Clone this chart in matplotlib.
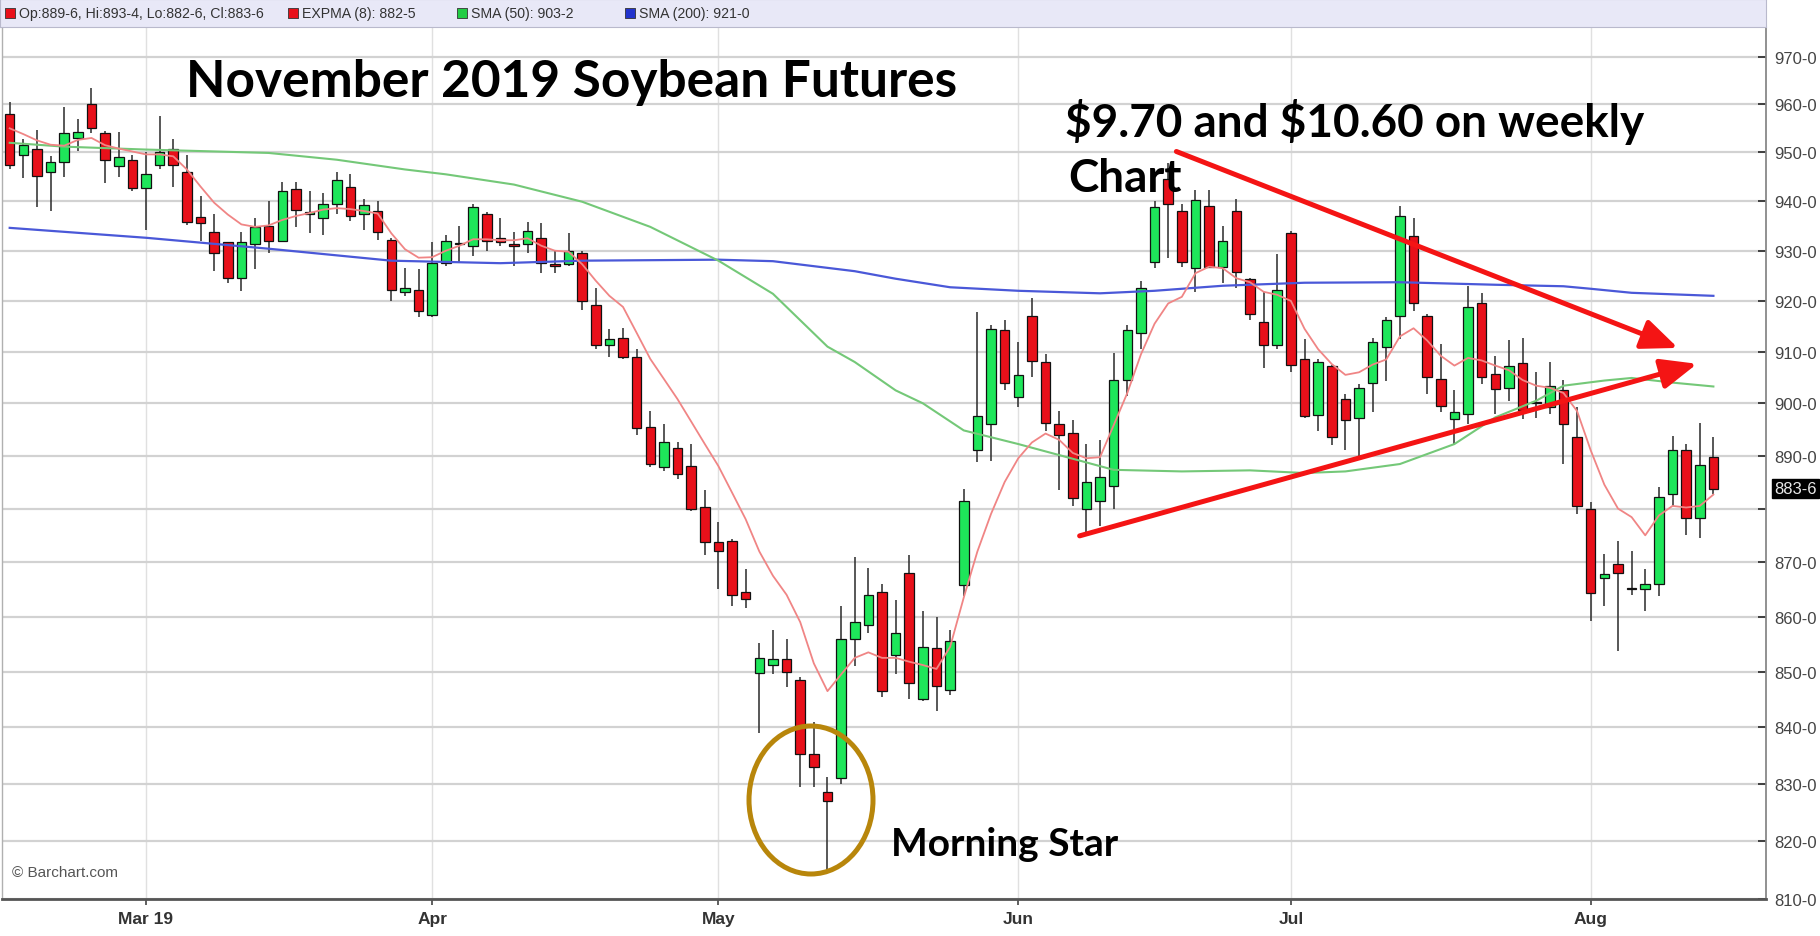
import matplotlib
matplotlib.use("Agg")
import matplotlib.pyplot as plt
import numpy as np
from matplotlib import font_manager
from matplotlib.patches import Ellipse
from matplotlib.transforms import blended_transform_factory


# daily OHLC, Nov-19 soybeans, Feb 14 .. Aug 14 2019 (trading days)
OPEN = [958, 949.5, 950.75, 946, 948, 953, 960, 954, 947.25, 948.5,
        942.75, 947.5, 950.75, 946, 936.75, 933.75, 931.75, 924.5, 931.25, 935,
        932, 942.5, 937.5, 936.5, 939.5, 943, 937.5, 938, 932.25, 921.75,
        922.25, 917.25, 927.5, 931.25, 931, 937.5, 932.5, 931.25, 931.25, 932.5,
        927.25, 927.25, 929.5, 919.25, 911.25, 912.75, 909, 895.5, 887.75, 891.5,
        888, 880.25, 873.75, 874, 864.5, 849.75, 851.25, 852.25, 848.5, 835.25,
        828.5, 831, 856, 858.5, 864.5, 853, 868, 845, 854.25, 846.75,
        865.75, 891, 896, 914.25, 901.25, 917, 908, 896, 894.25, 880,
        881.5, 884.25, 904.5, 913.75, 927.75, 944.5, 938, 926.5, 939, 926.75,
        938, 924.25, 915.75, 911.25, 933.5, 908.5, 897.75, 907.25, 900.75, 897.25,
        904, 911, 917, 933, 917, 904.75, 897, 898, 919.5, 905.75,
        903, 907.75, 900.25, 899.25, 902.5, 893.5, 880, 867, 869.75, 865.25,
        865, 866, 882.75, 891, 878.25, 889.75]
HIGH = [960.5, 952.75, 954.75, 949.25, 959.5, 957, 963.5, 954.5, 954.25, 949.5,
        950, 957.5, 952.75, 949.5, 941, 937.5, 931.75, 933.75, 936.5, 940,
        944, 944, 942, 941.75, 946, 945.5, 940.5, 940, 932.5, 926.5,
        926.25, 931.75, 933.25, 935, 939.5, 937.75, 936.5, 933.75, 935.75, 935.5,
        930, 933.5, 930, 922.5, 914.5, 914.75, 910.5, 898.5, 896, 892.5,
        892.25, 883.5, 877.5, 874.25, 868.75, 855.25, 857.5, 856, 849, 841,
        831.25, 862, 871, 869, 866, 863, 871.25, 861, 860, 857.5,
        883.75, 917.75, 915.25, 916.25, 912, 920.5, 909.5, 898.5, 896.75, 892.25,
        893, 909.75, 915.25, 924, 940, 947.75, 939.5, 942.25, 942.25, 935,
        940.5, 924.5, 921.75, 929.25, 934, 912.5, 908.5, 907.5, 901.75, 903.75,
        912.75, 916.75, 939, 936.5, 917.5, 911.5, 902.5, 923, 921.5, 909.25,
        912.25, 912.75, 906, 908, 904.5, 899.25, 881.25, 871.5, 874, 872,
        868.75, 884, 893.75, 892.25, 896.25, 893.5]
LOW = [946.5, 944.75, 938.75, 938, 945, 950.25, 954, 943.75, 945, 942,
       934.25, 946.5, 943, 935.25, 932, 926, 923.5, 922, 926.25, 929.5,
       931.75, 934.75, 933.5, 933.25, 937.5, 936, 934.25, 932.25, 920, 921,
       916.75, 916.75, 927, 927.5, 929, 930, 931, 927, 929.5, 925.5,
       925.5, 927, 918.25, 910.5, 909, 908.5, 894, 887.75, 887, 885.5,
       879.5, 871.25, 865, 862, 861.5, 839, 849.5, 847.25, 829.5, 829.5,
       814.75, 830, 851, 857, 845.5, 849.5, 845, 844.75, 843, 845.75,
       863.75, 888.75, 889, 902.5, 899.25, 905, 894.75, 883.5, 880.5, 875.5,
       876.75, 880, 901.5, 910.5, 926.5, 928.5, 926.75, 921.75, 926.5, 923.5,
       922.5, 916.25, 906.75, 910.5, 906, 897.25, 894.75, 892, 891, 889.75,
       898.25, 904.25, 912.5, 918, 901.75, 898.25, 892, 896, 903.75, 898,
       900.5, 897, 897.25, 898, 888.5, 879, 859.25, 862, 853.75, 864,
       861, 863.75, 880.5, 875, 874.5, 882.75]
CLOSE = [947.5, 951.5, 945.25, 948, 954, 954.25, 955, 948.5, 949, 942.75,
         945.5, 950, 947.5, 935.75, 935.5, 929.5, 924.5, 931.75, 934.75, 932,
         942, 938.25, 937.75, 939.5, 944.25, 937, 939.25, 933.75, 922.25, 922.5,
         918, 927.5, 932, 931.5, 938.75, 932, 931.75, 931, 934, 927.5,
         927, 930, 920, 911.25, 912.5, 909, 895.25, 888.5, 892.5, 886.5,
         880, 873.75, 872, 864, 863.25, 852.5, 852.25, 850, 835.25, 833,
         827, 856, 859, 864, 846.5, 857, 848, 854.5, 847.5, 855.5,
         881.5, 897.5, 914.5, 904, 905.5, 908.25, 896.25, 894, 882, 885,
         886, 904.5, 914.25, 922.5, 938.75, 939.5, 927.75, 940.25, 926.75, 932,
         925.75, 917.5, 911.25, 922.25, 907.5, 897.5, 908, 893.5, 896.75, 903,
         912, 916.25, 937, 919.5, 905, 899.5, 898.25, 918.75, 905, 902.75,
         907.25, 898.75, 900, 903.25, 896, 880.5, 864.25, 867.75, 868, 865,
         866, 882.25, 891, 878.25, 888.25, 883.75]

# studies
EXPMA8 = [955, 953.8, 952.5, 951.6, 951.4, 952.6, 953, 951.5, 950.8, 950.2,
          949.6, 949.6, 949.2, 946.5, 943, 939.7, 937.3, 935.3, 934.8, 935.1,
          936.2, 937, 937.6, 938.3, 938.6, 938.4, 938, 937.5, 933.5, 930.3,
          928.6, 928.7, 930, 931, 932.3, 932.3, 932.1, 932.1, 932.5, 931,
          930, 929.8, 927.3, 924, 921, 918.8, 913.7, 908.6, 904.7, 900.8,
          896.5, 892.2, 888, 883, 878, 872, 867.5, 864, 859, 851.5,
          846.5, 849.5, 852.5, 853.5, 852.5, 852.5, 851.8, 851.2, 850.5, 854.5,
          863.5, 872, 879, 885, 889.5, 892.5, 894.2, 893, 890.5, 889.5,
          889.7, 895.8, 902, 909.5, 915.5, 919.5, 920.8, 925.5, 926.8, 926.5,
          924.5, 923.7, 921.8, 921.2, 920, 914.5, 910.5, 907.6, 905.5, 906,
          907.5, 908.5, 913, 914.6, 912.2, 909.2, 907.3, 908.8, 908.3, 907.3,
          906.4, 904.5, 903.4, 903, 902, 898.5, 891, 884.5, 880, 878.4,
          875, 878.7, 880.5, 880.2, 880.5, 882.625]
SMA50_IDX = [0, 4, 10, 19, 24, 29, 32, 37, 42, 47, 52, 56, 60, 62, 65, 67, 70,
             74, 78, 81, 86, 91, 95, 98, 102, 106, 109, 112, 114, 117, 119, 122, 125]
SMA50 = [952.0, 951.2, 950.6, 949.9, 948.5, 946.5, 945.5, 943.4, 939.9, 934.8,
         928.0, 921.4, 911.0, 908.0, 902.5, 900.0, 894.8, 892.2, 889.4, 887.3,
         887.0, 887.2, 886.7, 887.0, 888.4, 892.2, 897.3, 900.5, 903.4, 904.4,
         904.9, 904.0, 903.25]
SMA200_IDX = [0, 10, 19, 28, 36, 42, 52, 56, 62, 65, 69, 74, 80, 84, 89, 95,
              102, 109, 114, 116, 119, 125]
SMA200 = [934.6, 932.6, 930.4, 928.0, 927.5, 928.0, 928.2, 927.9, 925.9, 924.4,
          922.7, 922.0, 921.5, 922.0, 923.0, 923.6, 923.7, 923.2, 922.9, 922.4,
          921.6, 921.0]

MONTH_IDX = [10, 31, 52, 74, 94, 116]
MONTH_LABELS = ["Mar 19", "Apr", "May", "Jun", "Jul", "Aug"]
PRICE_TICKS = list(range(810, 971, 10))

UP_COLOR = "#1ee65a"
DOWN_COLOR = "#e8101a"
EMA_COLOR = "#f08585"
SMA50_COLOR = "#74c878"
SMA200_COLOR = "#4a58d8"
ARROW_RED = "#f41414"
CIRCLE_COLOR = "#b8860b"

W, H = 1820, 937

_names = {f.name for f in font_manager.fontManager.ttflist}
NARROW = "Liberation Sans Narrow" if "Liberation Sans Narrow" in _names else "Liberation Sans"
HEAD_FONT = "Lato" if "Lato" in _names else "DejaVu Sans"

# the source screenshot is stretched a bit more toward the bottom of the price axis
A_LIN, B_QUAD = 4.70, 0.0035


def _fwd(p):
    u = 970.0 - np.asarray(p, dtype=float)
    return -(A_LIN * u + B_QUAD * u * u)


def _inv(v):
    v = np.asarray(v, dtype=float)
    disc = np.clip(A_LIN ** 2 - 4 * B_QUAD * v, 0, None)
    return 970.0 - (-A_LIN + np.sqrt(disc)) / (2 * B_QUAD)


def eighths(v):
    whole = int(np.floor(v))
    return f"{whole}-{int(round((v - whole) * 8))}"


o = np.array(OPEN)
h = np.array(HIGH)
lo = np.array(LOW)
c = np.array(CLOSE)
x = np.arange(len(o))

fig = plt.figure(figsize=(W / 100, H / 100), dpi=100)
ax = fig.add_axes([2 / W, 1 - 900 / H, 1764 / W, 871 / H])
ax.set_yscale("function", functions=(_fwd, _inv))
ax.set_xlim(-0.565, 128.86)
ax.set_ylim(810, 976.2)

ax.yaxis.grid(True, color="#d2d2d2", linewidth=1.6, zorder=0)
ax.xaxis.grid(True, color="#e0e0e0", linewidth=1.0, zorder=0)
ax.set_axisbelow(True)

# candles
ax.vlines(x, lo, h, color="#2a2a2a", linewidth=1.1, zorder=3)
colors = np.where(c >= o, UP_COLOR, DOWN_COLOR)
ax.bar(x, np.abs(c - o), bottom=np.minimum(o, c), width=0.7, color=colors,
       edgecolor="#111111", linewidth=0.9, zorder=4)

# studies
ax.plot(SMA200_IDX, SMA200, color=SMA200_COLOR, linewidth=1.6, zorder=5)
ax.plot(SMA50_IDX, SMA50, color=SMA50_COLOR, linewidth=1.5, zorder=5)
ax.plot(x, EXPMA8, color=EMA_COLOR, linewidth=1.3, zorder=5)

# axes cosmetics
ax.yaxis.tick_right()
ax.set_yticks(PRICE_TICKS)
ax.set_yticklabels(["" if v == 880 else f"{v}-0" for v in PRICE_TICKS],
                   family=NARROW, fontsize=12, color="#444444")
ax.tick_params(axis="y", direction="in", length=6, width=1.3, color="#333333", pad=6)
ax.set_xticks(MONTH_IDX)
ax.set_xticklabels(MONTH_LABELS, family=NARROW, fontsize=12.5,
                   fontweight="bold", color="#333333")
ax.tick_params(axis="x", direction="out", length=4, width=1.2, color="#444444", pad=5)
ax.yaxis.set_minor_locator(plt.NullLocator())
for side, col, lw in [("bottom", "#555555", 2.0), ("right", "#888888", 1.3),
                      ("left", "#b0b0b0", 1.0)]:
    ax.spines[side].set_color(col)
    ax.spines[side].set_linewidth(lw)
ax.spines["top"].set_visible(False)

# last price tag
tag = blended_transform_factory(ax.transAxes, ax.transData)
ax.text(1.0 + 8 / 1764, c[-1], eighths(c[-1]), transform=tag, ha="left",
        va="center", family=NARROW, fontsize=12, color="#e8e8e8",
        bbox=dict(boxstyle="square,pad=0.12", facecolor="black", edgecolor="black"),
        clip_on=False)

ax.text(10 / 1764, 27 / 871, "\u00a9 Barchart.com", transform=ax.transAxes,
        ha="left", va="center", family=NARROW, fontsize=11, color="#555555")

# header strip
hdr = fig.add_axes([0, 1 - 28 / H, 1766 / W, 28 / H])
hdr.set_xlim(0, 1766)
hdr.set_ylim(0, 28)
hdr.set_facecolor("#e8e8f7")
hdr.set_xticks([])
hdr.set_yticks([])
for sp in hdr.spines.values():
    sp.set_color("#b9b9cc")
legend_items = [
    (DOWN_COLOR, f"Op:{eighths(o[-1])}, Hi:{eighths(h[-1])}, Lo:{eighths(lo[-1])}, Cl:{eighths(c[-1])}", 10),
    (DOWN_COLOR, f"EXPMA (8): {eighths(EXPMA8[-1])}", 293),
    ("#22cc44", f"SMA (50): {eighths(SMA50[-1])}", 462),
    ("#2233cc", f"SMA (200): {eighths(SMA200[-1])}", 630),
]
for col, label, px in legend_items:
    hdr.scatter([px], [14], marker="s", s=60, color=col, edgecolor="#333333",
                linewidth=0.6)
    hdr.text(px + 9, 14, label, ha="left", va="center", family=NARROW,
             fontsize=10.2, color="#333333")

# annotations
fig.text(186 / W, 1 - 97.5 / H, "November 2019 Soybean Futures", family=HEAD_FONT,
         fontweight="bold", fontsize=37, va="baseline", ha="left")
fig.text(1065 / W, 1 - 137 / H, "$9.70 and $10.60 on weekly", family=HEAD_FONT,
         fontweight="bold", fontsize=33, va="baseline", ha="left", parse_math=False)
fig.text(1068 / W, 1 - 192.5 / H, "Chart", family=HEAD_FONT, fontweight="bold",
         fontsize=33, va="baseline", ha="left", zorder=10)
fig.text(891 / W, 1 - 856 / H, "Morning Star", family=HEAD_FONT, fontweight="bold",
         fontsize=28, va="baseline", ha="left")

arrow_style = dict(arrowstyle="-|>,head_length=1.0,head_width=0.42", color=ARROW_RED,
                   lw=3.6, mutation_scale=22, shrinkA=0, shrinkB=0)
ax.annotate("", xy=(122.4, 910.75), xytext=(85.6, 950.2), arrowprops=arrow_style,
            zorder=8)
ax.annotate("", xy=(123.8, 907.65), xytext=(78.5, 874.9), arrowprops=arrow_style,
            zorder=8)

fig.add_artist(Ellipse((811 / W, 1 - 801 / H), width=124 / W, height=148 / H,
                       transform=fig.transFigure, fill=False,
                       edgecolor=CIRCLE_COLOR, linewidth=3.6))

fig.savefig("out.png", dpi=100)
